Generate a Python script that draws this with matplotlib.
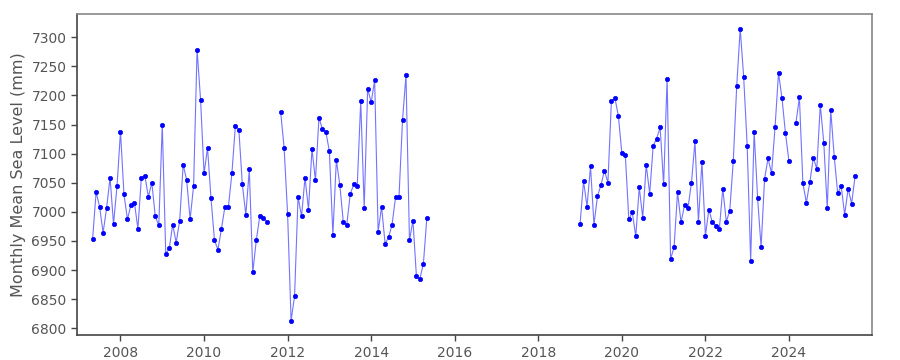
import numpy as np
import matplotlib
matplotlib.use("Agg")
import matplotlib.pyplot as plt

# Monthly mean sea level (mm), contiguous monthly segments (start year, start month)
seg1_start = (2007, 5)
seg1_values = [6954, 7034, 7009, 6964, 7006, 7059, 6979, 7044, 7138, 7030,
               6987, 7012, 7016, 6971, 7059, 7062, 7026, 7050, 6992, 6977,
               7150, 6928, 6937, 6978, 6947, 6985, 7081, 7055, 6987, 7045,
               7279, 7193, 7066, 7110, 7023, 6951, 6935, 6971, 7009, 7009,
               7066, 7148, 7141, 7047, 6995, 7073, 6896, 6951, 6992, 6990, 6983]

seg2_start = (2011, 11)
seg2_values = [7172, 7110, 6996, 6813, 6855, 7026, 6992, 7059, 7004, 7108,
               7054, 7162, 7142, 7137, 7104, 6961, 7089, 7046, 6982, 6978,
               7031, 7047, 7044, 7190, 7007, 7212, 7188, 7226, 6966, 7009,
               6945, 6956, 6978, 7025, 7026, 7157, 7235, 6951, 6985, 6889,
               6885, 6911, 6990]

seg3_start = (2019, 1)
seg3_values = [6979, 7053, 7009, 7078, 6978, 7027, 7046, 7071, 7050, 7190,
               7196, 7165, 7101, 7098, 6987, 6999, 6958, 7042, 6990, 7081,
               7031, 7114, 7126, 7145, 7047, 7229, 6919, 6939, 7034, 6982,
               7011, 7007, 7050, 7121, 6983, 7086, 6959, 7004, 6982, 6976,
               6970, 7040, 6983, 7002, 7087, 7217, 7315, 7231, 7114, 6916,
               7138, 7023, 6939, 7057, 7092, 7066, 7145, 7239, 7195, 7135, 7087]

seg4_start = (2024, 3)
seg4_values = [7153, 7197, 7049, 7016, 7051, 7093, 7074, 7184, 7119, 7006,
               7175, 7095, 7032, 7044, 6995, 7040, 7014, 7062]

segments = [(seg1_start, seg1_values), (seg2_start, seg2_values),
            (seg3_start, seg3_values), (seg4_start, seg4_values)]

x_ticks = [2008, 2010, 2012, 2014, 2016, 2018, 2020, 2022, 2024]
y_ticks = [6800, 6850, 6900, 6950, 7000, 7050, 7100, 7150, 7200, 7250, 7300]

plt.rcParams['font.family'] = ['DejaVu Sans']
fig = plt.figure(figsize=(9, 3.6), dpi=100)
ax = fig.add_axes([0.0856, 0.069, 0.8834, 0.892])

for (y0, m0), vals in segments:
    n = len(vals)
    x = y0 + (m0 - 1 + np.arange(n)) / 12.0
    ax.plot(x, vals, color=(0.45, 0.45, 1.0), lw=0.8, zorder=2)
    ax.plot(x, vals, 'o', color='#0000ff', ms=3.1, mec='#0000ff', mew=0.5, zorder=3)

ax.set_xlim(2006.96, 2025.99)
ax.set_ylim(6788, 7340)
ax.set_xticks(x_ticks)
ax.set_xticklabels([str(t) for t in x_ticks])
ax.set_yticks(y_ticks)
ax.set_yticklabels([str(t) for t in y_ticks])

tc = '#555555'
ax.tick_params(axis='both', colors='#444444', labelcolor=tc, labelsize=10,
               length=4, width=1, direction='out')
ax.set_ylabel('Monthly Mean Sea Level (mm)', color=tc, fontsize=11.5, labelpad=4)

for side in ['left', 'bottom']:
    ax.spines[side].set_color('#444444')
    ax.spines[side].set_linewidth(1.2)
for side in ['top', 'right']:
    ax.spines[side].set_color('#888888')
    ax.spines[side].set_linewidth(1.2)

fig.savefig('out.png', dpi=100)
